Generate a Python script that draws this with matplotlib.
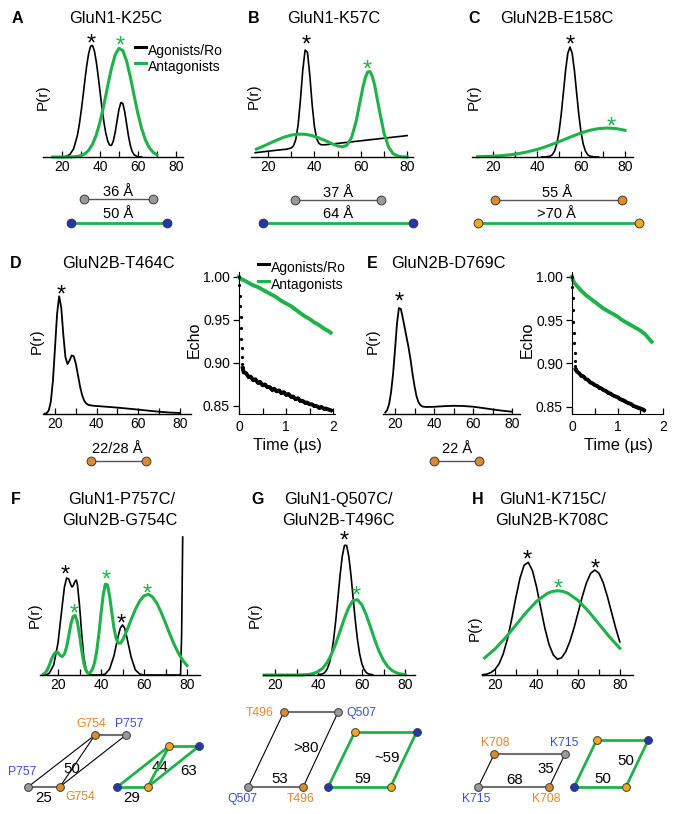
import matplotlib
matplotlib.use("Agg")
import matplotlib.pyplot as plt

plt.rcParams["font.family"] = ["Liberation Sans", "DejaVu Sans"]

GREEN = "#1fb14a"
GREY_DOT = "#9a9a9a"
ORANGE = "#dc8a2e"
YELLOW = "#f6a81c"
BLUE = "#2337b5"
LBL_BLUE = "#3b4fc8"

# ---- distance distributions P(r) (r in Angstrom, P in arbitrary units) ----
A_black_r = [16, 18, 20, 22, 24, 26, 28, 29, 30, 31, 32, 33, 34, 35, 36, 37, 38, 39, 40, 41,
             42, 43, 44, 45, 46, 47, 48, 49, 50, 51, 52, 53, 54, 55, 56, 57, 58, 60, 62]
A_black_p = [0, 0, 0.1, 0.6, 2.5, 8.2, 21.7, 32.6, 46, 61.5, 77.6, 92.5, 104, 110.9, 111.5, 106, 95,
             80.7, 64.7, 49, 35.1, 24, 16.2, 11.9, 11.6, 15.9, 24.8, 36.5, 47.9, 54.4, 53.6, 45.5,
             33.4, 21.1, 11.5, 5.4, 2.2, 0.2, 0]
A_green_r = [15, 18, 20, 22, 24, 26, 28, 30, 32, 34, 36, 38, 40, 42, 44, 46, 48, 50, 52, 54, 56,
             58, 60, 62, 64, 66, 68, 70]
A_green_p = [0, 0, 0, 0, 0.1, 0.2, 0.6, 1.5, 3.3, 6.8, 12.8, 22.1, 35.4, 52.1, 70.8, 88.6, 102.3,
             108.7, 106.5, 96.2, 80, 61.4, 43.4, 28.3, 17, 9.4, 4.8, 2.2]

B_black_r = [14.5, 20, 25, 28, 30, 31, 32, 33, 34, 35, 36, 37, 38, 39, 40, 41, 42, 43, 45, 50, 55,
             60, 65, 70, 75, 80]
B_black_p = [4.3, 5.8, 7.1, 7.8, 9.0, 11.2, 17.7, 32.5, 57.6, 87.2, 106.9, 104.8, 82.4, 53.2, 30.6,
             18.2, 13.5, 12.2, 12.3, 13.6, 14.9, 16.2, 17.5, 18.8, 20.1, 21.4]
B_green_r = [15, 18, 21, 24, 27, 30, 33, 36, 39, 42, 45, 48, 50, 52, 54, 56, 58, 60, 61, 62, 63,
             64, 65, 66, 68, 70, 72, 74, 76, 78, 80]
B_green_p = [7.9, 10.8, 14, 17.1, 19.9, 21.9, 22.9, 22.7, 21.4, 19, 16.1, 12.9, 11.1, 10.1, 11.7,
             19.3, 35.7, 59.1, 70.7, 79.8, 85.1, 85.4, 80.5, 71.5, 46.8, 24, 9.7, 3.2, 0.9, 0.1, 0]

C_black_r = [42, 44, 46, 47, 48, 49, 50, 51, 52, 53, 54, 55, 56, 57, 58, 59, 60, 61, 62, 63, 64,
             66, 68]
C_black_p = [0, 0.1, 0.9, 2.4, 6, 13, 24.9, 42.5, 64.4, 86.7, 103.7, 110, 103.7, 86.7, 64.4, 42.5,
             24.9, 13, 6, 2.4, 0.9, 0.1, 0]
C_green_r = [13, 16, 20, 24, 28, 32, 36, 40, 44, 48, 52, 56, 60, 64, 68, 72, 76, 80]
C_green_p = [0.3, 0.5, 0.8, 1.4, 2.3, 3.5, 5.3, 7.5, 10.3, 13.6, 17.1, 20.7, 24, 26.7, 28.4, 29,
             28.4, 26.7]

D_black_r = [15, 16, 17, 18, 19, 20, 21, 22, 23, 24, 25, 26, 27, 28, 29, 30, 31, 32, 33, 34, 35,
             36, 38, 40, 45, 50, 55, 60, 65, 70, 75, 80]
D_black_p = [0.3, 0.8, 3.6, 12.5, 33.1, 66.1, 100.1, 117.7, 106.6, 79.3, 57, 50, 53.5, 58.5, 57.8,
             50.5, 39.3, 27.9, 19.1, 13.5, 10.6, 9.2, 8.3, 8, 7.2, 6.4, 5.4, 4.4, 3.3, 2.3, 1.5, 1]

E_black_r = [15, 16, 17, 18, 19, 20, 21, 22, 23, 24, 25, 26, 27, 28, 29, 30, 31, 32, 33, 34, 36,
             40, 45, 50, 55, 60, 65, 70, 75, 80]
E_black_p = [1.5, 4, 10, 22, 40, 64, 90, 106, 105, 96, 86, 76, 66, 54, 40, 28, 18, 12, 9, 7.5, 7,
             7.2, 7.8, 8.2, 8, 7.3, 6, 4.6, 3.3, 2.3]

F_black_r = [13, 15, 16, 18, 20, 22, 23, 24, 25, 26, 26.5, 27, 28, 28.5, 29, 30, 31, 32, 33, 34,
             35, 36, 40, 42, 44, 46, 48, 49, 50, 51, 52, 54, 56, 58, 60, 77, 77.5, 78]
F_black_p = [0, 0.5, 2, 10, 32, 70, 88, 97, 96, 90, 88, 89, 94, 95, 91, 70, 42, 18, 6, 2, 0.5, 0,
             0, 1, 6, 19, 39, 47, 50, 47, 38, 18, 5, 1, 0, 0, 40, 138]
F_green_r = [13, 14, 15, 16, 17, 18, 19, 20, 21, 22, 23, 24, 25, 26, 27, 28, 29, 30, 31, 32, 33,
             34, 35, 36, 37, 38, 39, 40, 41, 42, 43, 44, 45, 46, 47, 48, 49, 50, 52, 54, 56, 58,
             60, 62, 64, 66, 68, 70, 72, 74, 76, 78, 80]
F_green_p = [0.5, 2, 5, 10, 16, 20.5, 23, 22.5, 19.5, 18.5, 21, 28, 39, 51, 58.5, 59.5, 53, 40, 25,
             12, 4.5, 1.5, 2.5, 5.7, 12.2, 23.7, 40.7, 61.1, 79.7, 90.8, 90.2, 79.1, 62.9, 47.4,
             36.8, 31.9, 31.8, 34.7, 44.3, 55.3, 65.6, 73.9, 79.2, 80.7, 78, 71.7, 62.6, 52, 41,
             30.7, 21.9, 14.8, 9.5]

G_black_r = [40, 42, 43, 44, 45, 46, 47, 48, 49, 50, 51, 52, 53, 54, 55, 56, 57, 58, 59, 60, 61,
             62, 63, 65]
G_black_p = [0.2, 1.1, 2.6, 5.8, 11.5, 21.1, 35.4, 54.6, 77.1, 100, 118.8, 129.6, 129.6, 118.8,
             100, 77.1, 54.6, 35.4, 21.1, 11.5, 5.8, 2.6, 1.1, 0.2]
G_green_r = [15, 20, 25, 30, 32, 34, 36, 38, 40, 42, 44, 46, 48, 50, 52, 54, 56, 58, 60, 62, 64,
             66, 68, 70, 72, 74, 76, 78, 80]
G_green_p = [0, 0, 0, 0, 0.1, 0.3, 0.7, 1.7, 3.6, 6.9, 12.4, 20.6, 31.3, 43.9, 56.8, 67.7, 74.4,
             75.3, 70.3, 60.4, 47.9, 35, 23.5, 14.6, 8.3, 4.4, 2.1, 1, 0.4]

H_black_r = [14, 16, 18, 20, 22, 24, 26, 28, 30, 32, 34, 36, 38, 40, 42, 44, 46, 48, 50, 52, 54,
             56, 58, 60, 62, 64, 66, 68, 70, 72, 74, 76, 78, 80]
H_black_p = [0.3, 0.9, 2.4, 5.5, 11.3, 21.4, 36.2, 55.6, 77.2, 96.8, 109.8, 112.6, 104.4, 87.8,
             66.9, 46.5, 30.4, 20.1, 15.8, 17.2, 23.3, 33.6, 47.1, 62.9, 78.7, 92.4, 101.7, 105,
             101.7, 92.4, 78.7, 62.9, 47.1, 33.1]
H_green_r = [15, 20, 25, 30, 35, 40, 45, 47.5, 50, 52.5, 55, 60, 65, 70, 75, 80]
H_green_p = [17.1, 26, 37.2, 49.8, 62.6, 73.7, 81.4, 83.5, 84.3, 83.7, 81.8, 74.5, 63.6, 50.9,
             38.2, 26.8]

# ---- DEER echo decays (time in microseconds) ----
D_echo_black_t = [0, 0.008, 0.016, 0.024, 0.032, 0.04, 0.048, 0.056, 0.064, 0.072, 0.08, 0.09,
                  0.1, 0.15, 0.2, 0.25, 0.3, 0.35, 0.4, 0.45, 0.5, 0.55, 0.6, 0.65, 0.7, 0.75,
                  0.8, 0.85, 0.9, 0.95, 1.0, 1.05, 1.1, 1.15, 1.2, 1.25, 1.3, 1.35, 1.4, 1.45,
                  1.5, 1.55, 1.6, 1.65, 1.7, 1.75, 1.8, 1.85, 1.9, 1.95]
D_echo_black = [1.000, 0.990, 0.978, 0.966, 0.953, 0.940, 0.928, 0.917, 0.907, 0.899, 0.894,
                0.891, 0.889, 0.888, 0.884, 0.884, 0.880, 0.881, 0.877, 0.878, 0.874, 0.875,
                0.872, 0.872, 0.869, 0.870, 0.867, 0.868, 0.865, 0.866, 0.863, 0.864, 0.861,
                0.861, 0.858, 0.859, 0.856, 0.856, 0.854, 0.854, 0.852, 0.852, 0.850, 0.850,
                0.848, 0.849, 0.847, 0.847, 0.846, 0.845]
D_echo_green_t = [0, 0.02, 0.05, 0.1, 0.2, 0.3, 0.4, 0.5, 0.6, 0.7, 0.8, 0.9, 1.0, 1.1, 1.2,
                  1.3, 1.4, 1.5, 1.6, 1.7, 1.8, 1.9, 1.95]
D_echo_green = [1.000, 0.998, 0.997, 0.996, 0.993, 0.990, 0.988, 0.985, 0.982, 0.979, 0.976,
                0.972, 0.969, 0.966, 0.962, 0.958, 0.954, 0.951, 0.947, 0.944, 0.940, 0.937,
                0.935]
E_echo_black_t = [0, 0.008, 0.016, 0.024, 0.032, 0.04, 0.048, 0.056, 0.064, 0.072, 0.08, 0.1,
                  0.15, 0.2, 0.25, 0.3, 0.35, 0.4, 0.45, 0.5, 0.55, 0.6, 0.65, 0.7, 0.75, 0.8,
                  0.85, 0.9, 0.95, 1.0, 1.05, 1.1, 1.15, 1.2, 1.25, 1.3, 1.35, 1.4, 1.45, 1.5,
                  1.55, 1.58]
E_echo_black = [1.000, 0.988, 0.975, 0.962, 0.948, 0.935, 0.923, 0.912, 0.903, 0.897, 0.893,
                0.891, 0.889, 0.886, 0.885, 0.882, 0.881, 0.878, 0.877, 0.875, 0.874, 0.872,
                0.871, 0.869, 0.868, 0.866, 0.865, 0.863, 0.862, 0.861, 0.859, 0.858, 0.857,
                0.855, 0.854, 0.853, 0.851, 0.850, 0.849, 0.848, 0.847, 0.846]
E_echo_green_t = [0, 0.02, 0.05, 0.1, 0.2, 0.3, 0.4, 0.5, 0.6, 0.7, 0.8, 0.9, 1.0, 1.1, 1.2,
                  1.3, 1.4, 1.5, 1.6, 1.7, 1.75]
E_echo_green = [1.000, 0.996, 0.993, 0.990, 0.984, 0.979, 0.975, 0.971, 0.967, 0.963, 0.960,
                0.957, 0.954, 0.950, 0.947, 0.944, 0.941, 0.938, 0.934, 0.928, 0.925]

W, H = 675, 814
fig = plt.figure(figsize=(W / 100, H / 100), dpi=100)


def box(left, top, right, bottom):
    ax = fig.add_axes([left / W, 1 - bottom / H, (right - left) / W, (bottom - top) / H])
    ax.patch.set_visible(False)
    return ax


def dist_axes(x20, k, xmin, xmax, base, height):
    ax = box(x20 - (20 - xmin) * k, base - height, x20 + (xmax - 20) * k, base)
    ax.set_xlim(xmin, xmax)
    ax.set_ylim(0, height)
    for s in ("top", "right", "left"):
        ax.spines[s].set_visible(False)
    ax.spines["bottom"].set_linewidth(1.0)
    ax.set_yticks([])
    ax.set_xticks(range(20, 81, 10))
    ax.set_xticklabels(["20", "", "40", "", "60", "", "80"])
    ax.tick_params(axis="x", direction="in", length=4, width=0.9, labelsize=10, pad=2.5)
    return ax


def echo_axes(left, k, tmax, base, ylo, yhi, kpx):
    ax = box(left, base - (yhi - ylo) * kpx, left + tmax * k, base)
    ax.set_xlim(0, tmax)
    ax.set_ylim(ylo, yhi)
    for s in ("top", "right"):
        ax.spines[s].set_visible(False)
    ax.set_yticks([0.85, 0.90, 0.95, 1.00])
    ax.set_yticklabels(["0.85", "0.90", "0.95", "1.00"])
    ax.set_xticks([0, 0.5, 1, 1.5, 2])
    ax.set_xticklabels(["0", "", "1", "", "2"])
    ax.tick_params(axis="y", direction="out", length=4, width=0.9, labelsize=10, pad=2.5)
    ax.tick_params(axis="x", direction="in", length=4, width=0.9, labelsize=10, pad=4)
    return ax


def curve(ax, r, p, color, lw):
    ax.plot(r, p, color=color, lw=lw, clip_on=False, solid_joinstyle="round")


# distribution panels
axA = dist_axes(62.3, 1.89, 10, 84, 157, 125)
curve(axA, A_black_r, A_black_p, "k", 1.2)
curve(axA, A_green_r, A_green_p, GREEN, 2.2)

axB = dist_axes(268, 2.32, 12.5, 82.5, 157, 125)
curve(axB, B_black_r, B_black_p, "k", 1.2)
curve(axB, B_green_r, B_green_p, GREEN, 2.2)

axC = dist_axes(493, 2.2, 10.5, 83.5, 157, 125)
curve(axC, C_black_r, C_black_p, "k", 1.2)
curve(axC, C_green_r, C_green_p, GREEN, 2.2)

axD = dist_axes(55, 2.08, 14.4, 85.6, 414, 135)
curve(axD, D_black_r, D_black_p, "k", 1.3)

axE = dist_axes(395, 1.95, 13.8, 84.1, 414, 135)
curve(axE, E_black_r, E_black_p, "k", 1.3)

axF = dist_axes(58, 2.15, 11.6, 86, 675, 125)
curve(axF, F_black_r, F_black_p, "k", 1.2)
curve(axF, F_green_r, F_green_p, GREEN, 2.2)

axG = dist_axes(275, 2.17, 14.5, 84.5, 675, 140)
curve(axG, G_black_r, G_black_p, "k", 1.2)
curve(axG, G_green_r, G_green_p, GREEN, 2.2)

axH = dist_axes(495, 2.08, 13.75, 86.5, 675, 125)
curve(axH, H_black_r, H_black_p, "k", 1.2)
curve(axH, H_green_r, H_green_p, GREEN, 2.2)

# echo panels
for left, k, tmax, ylo, yhi, kpx, bt, be, gt, ge in [
        (239, 47, 2.05, 0.8407, 1.0058, 862, D_echo_black_t, D_echo_black, D_echo_green_t, D_echo_green),
        (572, 45.5, 2.0, 0.8416, 1.0054, 866.7, E_echo_black_t, E_echo_black, E_echo_green_t, E_echo_green)]:
    ax = echo_axes(left, k, tmax, 414, ylo, yhi, kpx)
    ax.plot(gt, ge, color=GREEN, lw=2.8, clip_on=False)
    ax.plot(bt, be, "o", color="k", ms=2.3, mew=0, clip_on=False)
    slow = [i for i, t in enumerate(bt) if t >= 0.08]
    ax.plot([bt[i] for i in slow], [be[i] for i in slow], color="k", lw=2.8, clip_on=False)

# overlay in pixel coordinates for labels and diagrams
ov = fig.add_axes([0, 0, 1, 1], zorder=5)
ov.set_xlim(0, W)
ov.set_ylim(H, 0)
ov.axis("off")
ov.patch.set_alpha(0)


def txt(x, y, s, size, color="k", ha="center", va="baseline", weight="normal", rot=0):
    ov.text(x, y, s, fontsize=size, color=color, ha=ha, va=va, fontweight=weight, rotation=rot)


def ctext(x, yc, s, size, color="k"):
    # place text so the ink of digits/caps is centred on yc
    txt(x, yc + 0.36 * size * 100 / 72, s, size, color)


def star(x, yc, color="k"):
    size = 17
    txt(x, yc + 0.58 * size * 100 / 72, "*", size, color)


# panel letters and titles
for x, y, s in [(17, 22.7, "A"), (254, 23, "B"), (474, 23, "C"), (16, 267.5, "D"),
                (372, 267.5, "E"), (16, 504, "F"), (257.5, 504, "G"), (477.5, 504, "H")]:
    txt(x, y, s, 11.5, weight="bold")
for x, y, s in [(115.5, 22.7, "GluN1-K25C"), (333.5, 23, "GluN1-K57C"), (556.5, 23, "GluN2B-E158C"),
                (118, 267.5, "GluN2B-T464C"), (448.5, 267.5, "GluN2B-D769C"),
                (122, 504, "GluN1-P757C/"), (120, 525, "GluN2B-G754C"),
                (338, 504, "GluN1-Q507C/"), (338, 525, "GluN2B-T496C"),
                (552, 504, "GluN1-K715C/"), (552, 525, "GluN2B-K708C")]:
    txt(x, y, s, 11.8)

# axis labels
for x, y in [(42.5, 97), (254, 96), (474, 97), (37, 341), (373, 341), (35, 615), (255, 615), (475, 628)]:
    txt(x, y, "P(r)", 11, va="center", rot=90)
for x in (194, 527):
    txt(x, 340, "Echo", 11.5, va="center", rot=90)
for x in (287.5, 618):
    txt(x, 450, "Time (\u00b5s)", 11.8)

# legends
for x0, y0, y1 in [(135, 47, 63), (258, 264, 280.7)]:
    ov.plot([x0, x0 + 10.5], [y0, y0], color="k", lw=2.2)
    ov.plot([x0, x0 + 10.5], [y1, y1], color=GREEN, lw=2.2)
    txt(x0 + 12.5, y0 + 4, "Agonists/Ro", 10, ha="left", va="center")
    txt(x0 + 12.5, y1 + 4, "Antagonists", 10, ha="left", va="center")

# asterisks
for x, y, c in [(91.7, 36.7, "k"), (120, 39.3, GREEN), (306, 38.3, "k"), (367.7, 63.3, GREEN),
                (570, 38.3, "k"), (611.7, 120, GREEN), (61, 288, "k"), (399, 295, "k"),
                (65.7, 568, "k"), (121, 617, "k"), (74, 607, GREEN), (106, 573, GREEN),
                (147.7, 587, GREEN), (344, 534, "k"), (356, 589.3, GREEN),
                (527.3, 553.3, "k"), (595, 561.7, "k"), (558.3, 581.7, GREEN)]:
    star(x, y, c)


def dot(x, y, color, ms=6.3):
    ov.plot(x, y, "o", ms=ms, mfc=color, mec="#3a3a3a", mew=0.7, zorder=6)


def seg(p, q, color, lw):
    ov.plot([p[0], q[0]], [p[1], q[1]], color=color, lw=lw, zorder=4, solid_capstyle="butt")


# single distance bars (A-E)
bars = [
    (118, 195.5, "36 \u00c5", (84, 199.3), (153, 199.3), GREY_DOT, "#555555", 1.0),
    (118, 217.7, "50 \u00c5", (71, 222.7), (167, 222.7), BLUE, GREEN, 2.0),
    (338, 196.7, "37 \u00c5", (295, 200), (381, 200), GREY_DOT, "#555555", 1.0),
    (338, 218.3, "64 \u00c5", (263, 222.5), (413, 222.5), BLUE, GREEN, 2.0),
    (557.5, 196.7, "55 \u00c5", (495, 200), (622, 200), ORANGE, "#555555", 1.0),
    (556, 218.3, ">70 \u00c5", (478, 222.5), (639, 222.5), YELLOW, GREEN, 2.0),
    (117.5, 453.3, "22/28 \u00c5", (91, 461), (146, 461), ORANGE, "#555555", 1.0),
    (457, 453.3, "22 \u00c5", (434, 461), (479, 461), ORANGE, "#555555", 1.0),
]
for x, y, s, p, q, dc, lc, lw in bars:
    txt(x, y, s, 10.5)
    seg(p, q, lc, lw)
    dot(p[0], p[1], dc)
    dot(q[0], q[1], dc)

# parallelogram diagrams (F-H)
LG = "#707070"
# F grey
fa, fb, fc, fd = (28.3, 786.7), (60, 786.7), (95, 735), (126, 735)
seg(fc, fd, LG, 1.5); seg(fa, fb, LG, 1.5)
seg(fa, fc, "k", 0.8); seg(fb, fc, "k", 0.8); seg(fb, fd, "k", 0.8)
dot(*fa, GREY_DOT, 5.6); dot(*fb, ORANGE, 5.6); dot(*fc, ORANGE, 5.6); dot(*fd, GREY_DOT, 5.6)
# F green
ga, gb, gc, gd = (117.3, 787), (147.7, 787), (169.3, 746), (199.3, 746)
for p, q in [(ga, gb), (gc, gd), (ga, gc), (gb, gc), (gb, gd)]:
    seg(p, q, GREEN, 2.0)
dot(*ga, BLUE, 5.6); dot(*gb, YELLOW, 5.6); dot(*gc, YELLOW, 5.6); dot(*gd, BLUE, 5.6)
for x, y, s, c in [(91.7, 722.5, "G754", ORANGE), (129.5, 722.5, "P757", LBL_BLUE),
                   (22.3, 771, "P757", LBL_BLUE), (80, 796, "G754", ORANGE)]:
    ctext(x, y, s, 8.8, c)
for x, y, s in [(71.7, 768, "50"), (43.3, 796.7, "25"), (159.5, 765.3, "44"),
                (188.3, 769.5, "63"), (131.7, 796.7, "29")]:
    ctext(x, y, s, 10.8)

# G grey
ha_, hb, hc, hd = (248.3, 786.7), (303.3, 786.7), (284, 711.7), (338.3, 711.7)
seg(hc, hd, LG, 1.5); seg(ha_, hb, LG, 1.5)
seg(ha_, hc, "k", 0.8); seg(hb, hd, "k", 0.8)
dot(*ha_, GREY_DOT, 5.6); dot(*hb, ORANGE, 5.6); dot(*hc, ORANGE, 5.6); dot(*hd, GREY_DOT, 5.6)
# G green
ia, ib, ic, id_ = (328.3, 786.7), (390.7, 786.7), (355, 731.7), (416.7, 731.7)
for p, q in [(ia, ib), (ic, id_), (ia, ic), (ib, id_)]:
    seg(p, q, GREEN, 2.0)
dot(*ia, BLUE, 5.6); dot(*ib, YELLOW, 5.6); dot(*ic, YELLOW, 5.6); dot(*id_, BLUE, 5.6)
for x, y, s, c in [(260, 711.7, "T496", ORANGE), (361, 711.7, "Q507", LBL_BLUE),
                   (242, 798, "Q507", LBL_BLUE), (301, 798, "T496", ORANGE)]:
    ctext(x, y, s, 8.8, c)
for x, y, s in [(305.5, 746.7, ">80"), (280, 778, "53"), (387.5, 756.7, "~59"), (363, 778, "59")]:
    ctext(x, y, s, 10.8)

# H grey
ja, jb, jc, jd = (478.3, 786.7), (549.3, 786.7), (494.3, 754), (565, 754)
seg(jc, jd, LG, 1.5); seg(ja, jb, LG, 1.5)
seg(ja, jc, "k", 0.8); seg(jb, jd, "k", 0.8)
dot(*ja, GREY_DOT, 5.6); dot(*jb, ORANGE, 5.6); dot(*jc, ORANGE, 5.6); dot(*jd, GREY_DOT, 5.6)
# H green
ka, kb, kc, kd = (574.3, 786.7), (626, 786.7), (596.7, 740), (648.3, 740)
for p, q in [(ka, kb), (kc, kd), (ka, kc), (kb, kd)]:
    seg(p, q, GREEN, 2.0)
dot(*ka, BLUE, 5.6); dot(*kb, YELLOW, 5.6); dot(*kc, YELLOW, 5.6); dot(*kd, BLUE, 5.6)
for x, y, s, c in [(495, 741.7, "K708", ORANGE), (564, 741.7, "K715", LBL_BLUE),
                   (476, 798, "K715", LBL_BLUE), (546, 798, "K708", ORANGE)]:
    ctext(x, y, s, 8.8, c)
for x, y, s in [(515, 779, "68"), (546, 767.7, "35"), (625.5, 760, "50"), (603, 778, "50")]:
    ctext(x, y, s, 10.8)

fig.savefig("out.png", dpi=100)
